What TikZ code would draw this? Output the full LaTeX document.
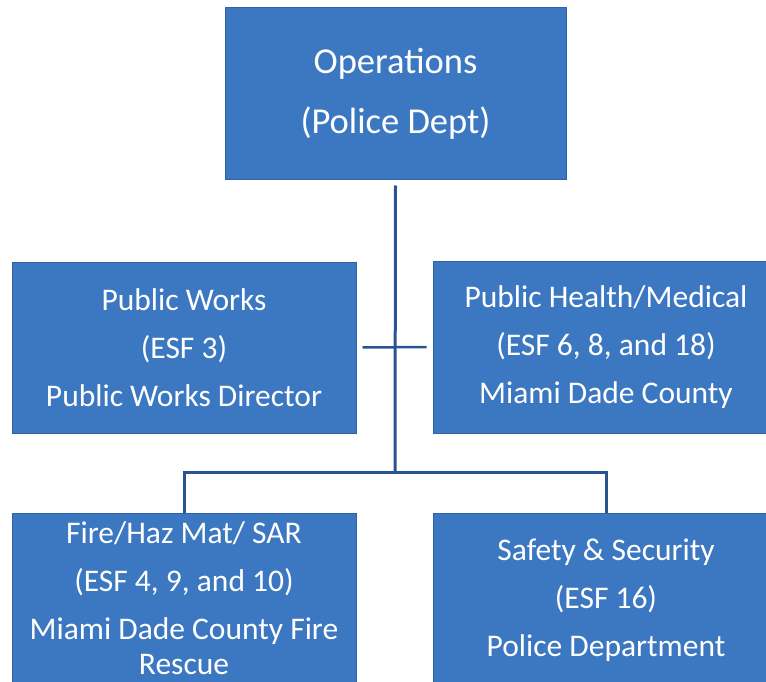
\documentclass[tikz,border=0pt]{standalone}
\usepackage{fontspec}
\setmainfont{Carlito}
\definecolor{boxfill}{RGB}{60,120,194}
\definecolor{boxedge}{RGB}{46,98,166}
\definecolor{linecol}{RGB}{40,84,148}
\begin{document}
\begin{tikzpicture}[x=1pt,y=-1pt,
  orgbox/.style={draw=boxedge, line width=1pt, fill=boxfill, text=white, align=center, inner sep=0pt},
  midfont/.style={font=\fontsize{31.5}{48}\selectfont},
  topfont/.style={font=\fontsize{36.5}{60}\selectfont},
  conn/.style={draw=linecol, line width=3pt}]
\useasboundingbox (0,0) rectangle (766,682);
\clip (0,0) rectangle (766,682);
\node[orgbox, topfont, minimum width=341pt, minimum height=172pt] (ops) at (395.5,94) {Operations\\(Police Dept)};
\node[orgbox, midfont, minimum width=344pt, minimum height=171pt] (pw) at (184,347.5) {Public Works\\(ESF 3)\\Public Works Director};
\node[orgbox, midfont, minimum width=346pt, minimum height=172pt] (ph) at (606,347) {Public Health/Medical\\(ESF 6, 8, and 18)\\Miami Dade County};
\node[orgbox, midfont, minimum width=344pt, minimum height=170pt] (fire) at (184,598) {Fire/Haz Mat/ SAR\\(ESF 4, 9, and 10)\\Miami Dade County Fire\\[-13pt]Rescue};
\node[orgbox, midfont, minimum width=346pt, minimum height=174pt] (safe) at (606,600) {Safety \& Security\\(ESF 16)\\Police Department};
\coordinate (j) at (395,472);
\draw[conn] ([yshift=-5pt]ops.south) -- (j);
\draw[conn] (fire.north) |- (j) -| (safe.north);
\draw[conn, line width=2.5pt] ([xshift=6pt]pw.east) -- ([xshift=-6pt]ph.west);
\end{tikzpicture}
\end{document}
